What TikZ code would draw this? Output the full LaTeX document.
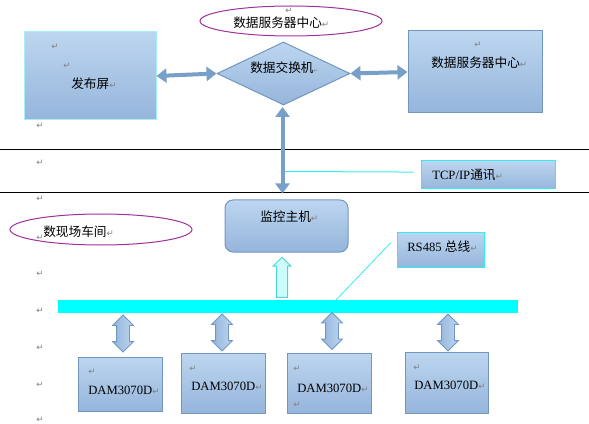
\documentclass[tikz,border=0pt]{standalone}
\usepackage{fontspec}
\setmainfont{Liberation Serif}
\newfontfamily\cjk{Noto Sans CJK SC}
\newfontfamily\djv{DejaVu Sans}
\usetikzlibrary{shapes.geometric,shapes.arrows,arrows.meta}
\definecolor{boxtop}{HTML}{BDD6F0}
\definecolor{boxbot}{HTML}{95B5DB}
\definecolor{boxline}{HTML}{7396C0}
\definecolor{linkcol}{HTML}{789FC8}
\definecolor{paleedge}{HTML}{A8EEF6}
\definecolor{cyanedge}{HTML}{33EEF0}
\definecolor{buscol}{HTML}{00FFFF}
\definecolor{ellcol}{HTML}{A0309A}
\definecolor{mkgray}{HTML}{7F7F7F}
\definecolor{hollowfill}{HTML}{CCFCFC}
\definecolor{hollowedge}{HTML}{4FD4D4}
\newcommand{\rmk}{{\djv\fontsize{6.5}{7}\selectfont\textcolor{mkgray}{↵}}}
\begin{document}
\begin{tikzpicture}[x=0.75pt,y=-0.75pt,
  box/.style={draw=boxline, line width=0.75pt, top color=boxtop, bottom color=boxbot, inner sep=0pt},
  ell/.style={ellipse, draw=ellcol, line width=0.75pt, inner sep=0pt},
  cjktxt/.style={inner sep=0pt, anchor=west, font=\cjk\fontsize{9.5}{11}\selectfont},
  lattxt/.style={inner sep=0pt, anchor=west, font=\fontsize{9.5}{11}\selectfont},
  pmark/.style={inner sep=0pt},
  link/.style={draw=linkcol, line width=3pt, {Triangle[width=10.5pt,length=7.5pt]}-{Triangle[width=10.5pt,length=7.5pt]}},
  blockarrow/.style={double arrow, rotate=90, draw=boxline, line width=0.6pt,
    left color=boxbot, right color=boxtop, inner xsep=0pt, inner ysep=4.5pt,
    double arrow head extend=3pt, minimum width=15pt, minimum height=27.75pt},
  thinlink/.style={draw=cyanedge, line width=0.75pt}
]
\useasboundingbox (0,0) rectangle (589,424);

% separator lines
\coordinate (l1a) at (0,150); \coordinate (l1b) at (589,150);
\coordinate (l2a) at (0,193); \coordinate (l2b) at (589,193);
\draw[black, line width=0.75pt] (l1a) -- (l1b);
\draw[black, line width=0.75pt] (l2a) -- (l2b);

% ellipses
\node[ell, minimum width=136.5pt, minimum height=22.5pt] (e1) at (291,21) {};
\node[cjktxt] (e1t) at (233,22.5) {数据服务器中心\rmk};
\node[pmark] (e1m) at (289,11) {\rmk};

\node[ell, minimum width=136.5pt, minimum height=23.25pt] (e2) at (101,229.5) {};
\node[pmark] (m4) at (40,238) {\rmk};
\node[cjktxt] (e2t) at (43,232) {数现场车间\rmk};

% boxes
\node[box, draw=paleedge, minimum width=99pt, minimum height=66pt] (pub) at (90,76) {};
\node[pmark] (pubm1) at (55,47) {\rmk};
\node[pmark] (pubm2) at (67,66) {\rmk};
\node[cjktxt] (pubt) at (71,84) {发布屏\rmk};

\node[box, diamond, minimum width=99.75pt, minimum height=47.25pt] (dia) at (283.5,73.5) {};
\node[cjktxt] (diat) at (250,68) {数据交换机{\djv\fontsize{4}{4}\selectfont\textcolor{mkgray}{↵}}};

\node[box, minimum width=100.5pt, minimum height=61.5pt] (srv) at (475,72) {};
\node[pmark] (srvm) at (478,45) {\rmk};
\node[cjktxt] (srvt) at (431,63) {数据服务器中心\rmk};

\node[box, draw=cyanedge, minimum width=100.5pt, minimum height=21pt] (tcp) at (488,175) {};
\node[lattxt] (tcpt) at (432,175) {TCP/IP{\cjk 通讯}\rmk};

\node[box, rounded corners=6pt, minimum width=92.25pt, minimum height=39pt] (mon) at (286.5,226) {};
\node[cjktxt] (mont) at (260,217) {监控主机\rmk};

\node[box, draw=cyanedge, minimum width=65.25pt, minimum height=26.25pt] (rs) at (440.5,249.5) {};
\node[lattxt] (rst) at (407,247) {RS485 {\cjk 总线}\rmk};

\node[fill=buscol, inner sep=0pt, minimum width=345pt, minimum height=9.75pt] (bus) at (288,306.5) {};

\node[box, minimum width=63pt, minimum height=40.5pt] (d1) at (120,384) {};
\node[box, minimum width=63pt, minimum height=45pt] (d2) at (223,383) {};
\node[box, minimum width=63pt, minimum height=45pt] (d3) at (329,383) {};
\node[box, minimum width=62.25pt, minimum height=45.75pt] (d4) at (446.5,382.5) {};
\node[pmark] (d1m) at (92,372) {\rmk};
\node[lattxt] (d1t) at (88,390) {DAM3070D\rmk};
\node[pmark] (d2m) at (193,369) {\rmk};
\node[lattxt] (d2t) at (191,386) {DAM3070D\rmk};
\node[pmark] (d3m) at (297,369) {\rmk};
\node[lattxt] (d3t) at (297,388) {DAM3070D\rmk};
\node[pmark] (d3m2) at (297,405) {\rmk};
\node[pmark] (d4m) at (417,368) {\rmk};
\node[lattxt] (d4t) at (414,385) {DAM3070D\rmk};

% block arrows between bus and DAM boxes
\node[blockarrow] (a1) at (123,333.5) {};
\node[blockarrow] (a2) at (222,332.5) {};
\node[blockarrow] (a3) at (332,331) {};
\node[blockarrow] (a4) at (448,332.5) {};

% hollow arrow from bus up to monitoring host
\node[single arrow, rotate=90, draw=hollowedge, fill=hollowfill, line width=0.75pt,
  inner xsep=0pt, inner ysep=3.75pt, single arrow head extend=2.6pt,
  minimum width=12.75pt, minimum height=30pt] (ua) at (282,280) {};

% connectors
\draw[link] (pub.east) -- (dia.west);
\draw[link] (dia.east) -- (srv.west);
\coordinate (vb) at (282.5,193.5);
\coordinate (vt) at (282.5,107);
\draw[link] (vt) -- (vb);

\coordinate (tcpl) at (285,171.5);
\draw[thinlink] (tcpl) -- ([xshift=-5.25pt,yshift=2.2pt]tcp.west);

\coordinate (rsl) at (336,300);
\draw[thinlink, line width=0.6pt] (rsl) -- ([xshift=-4.5pt,yshift=4.9pt]rs.west);

% paragraph marks along the left margin
\node[pmark] (m1) at (40,126) {\rmk};
\node[pmark] (m2) at (40,163) {\rmk};
\node[pmark] (m3) at (40,199) {\rmk};
\node[pmark] (m5) at (40,274) {\rmk};
\node[pmark] (m6) at (40,311) {\rmk};
\node[pmark] (m7) at (40,348) {\rmk};
\node[pmark] (m8) at (40,385) {\rmk};
\node[pmark] (m9) at (40,420) {\rmk};
\end{tikzpicture}
\end{document}
